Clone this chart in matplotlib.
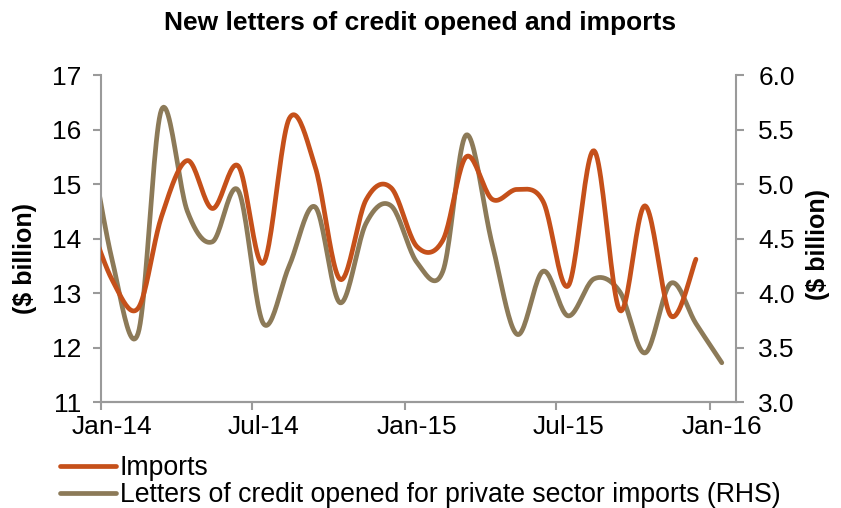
import numpy as np
import pandas as pd
import matplotlib
matplotlib.use('Agg')
import matplotlib.pyplot as plt
import matplotlib.dates as mdates
from matplotlib.lines import Line2D

plt.rcParams['font.family'] = ['Liberation Sans', 'DejaVu Sans']

# Monthly observations, stamped at mid-month (Dec-13 .. Jan-16)
months = pd.date_range('2013-12-01', '2016-01-01', freq='MS') + pd.Timedelta(days=14)

# Imports, $ billion (Dec-13 .. Dec-15)
imports = [14.50, 13.24, 12.72, 14.40, 15.43, 14.55, 15.33, 13.55, 16.20, 15.32, 13.25, 14.71, 14.93,
           13.85, 13.97, 15.50, 14.72, 14.90, 14.68, 13.13, 15.61, 12.68, 14.60, 12.58, 13.62]

# Letters of credit opened for private sector imports, $ billion (Dec-13 .. Jan-16)
lc_opened = [5.60, 4.30, 3.63, 5.68, 4.75, 4.47, 4.94, 3.72, 4.25, 4.79, 3.91, 4.64, 4.80,
             4.28, 4.20, 5.45, 4.45, 3.62, 4.20, 3.79, 4.13, 4.01, 3.45, 4.09, 3.72, 3.36]

tick_dates = pd.to_datetime(['2014-01-01', '2014-07-01', '2015-01-01', '2015-07-01', '2016-01-01'])

c_imp = '#C5501A'
c_lc = '#8C7A58'
c_axis = '#9A9A9A'


def smooth(x, y, n=24):
    # Bezier smoothing through every point (Catmull-Rom style, like spreadsheet "smoothed line")
    x = np.asarray(x, float)
    y = np.asarray(y, float)
    px = np.concatenate([[x[0]], x, [x[-1]]])
    py = np.concatenate([[y[0]], y, [y[-1]]])
    t = np.linspace(0, 1, n)
    xs, ys = [], []
    for i in range(1, len(px) - 2):
        x0, x1, x2, x3 = px[i - 1], px[i], px[i + 1], px[i + 2]
        y0, y1, y2, y3 = py[i - 1], py[i], py[i + 1], py[i + 2]
        cx1, cy1 = x1 + (x2 - x0) / 6, y1 + (y2 - y0) / 6
        cx2, cy2 = x2 - (x3 - x1) / 6, y2 - (y3 - y1) / 6
        b0 = (1 - t) ** 3
        b1 = 3 * (1 - t) ** 2 * t
        b2 = 3 * (1 - t) * t ** 2
        b3 = t ** 3
        xs.append(b0 * x1 + b1 * cx1 + b2 * cx2 + b3 * x2)
        ys.append(b0 * y1 + b1 * cy1 + b2 * cy2 + b3 * y2)
    return np.concatenate(xs), np.concatenate(ys)


fig = plt.figure(figsize=(8.41, 5.08), dpi=100)
ax = fig.add_axes([100.5 / 841, 1 - 402 / 508, (736 - 100.5) / 841, 327 / 508])
ax2 = ax.twinx()

xnum = mdates.date2num(months)
xi, yi = smooth(xnum[:len(imports)], imports)
xl, yl = smooth(xnum, lc_opened)

ax.plot(xi, yi, color=c_imp, lw=3.4, solid_capstyle='round', zorder=3)
ax2.plot(xl, yl, color=c_lc, lw=3.4, solid_capstyle='round', zorder=2)

# Imports above the LC line
ax.set_zorder(ax2.get_zorder() + 1)
ax.patch.set_visible(False)

ax.set_xlim(mdates.date2num(pd.Timestamp('2014-01-01')), mdates.date2num(pd.Timestamp('2016-02-01')))
ax.set_ylim(11, 17)
ax2.set_ylim(3.0, 6.0)

# tick marks at month start, labels centred on mid-month
ax.set_xticks(mdates.date2num(tick_dates))
ax.set_xticklabels([])
ax.set_xticks(mdates.date2num(tick_dates + pd.Timedelta(days=14)), minor=True)
ax.set_xticklabels([d.strftime('%b-%y') for d in tick_dates], minor=True)
ax.tick_params(axis='x', which='minor', length=0, labelsize=19, pad=9)

ax.set_yticks(np.arange(11, 18, 1))
ax2.set_yticks(np.arange(3.0, 6.01, 0.5))
ax2.set_yticklabels(['%.1f' % v for v in np.arange(3.0, 6.01, 0.5)])

for a in (ax, ax2):
    a.spines['top'].set_visible(False)
    for s in ('left', 'right', 'bottom'):
        a.spines[s].set_color(c_axis)
        a.spines[s].set_linewidth(1.5)
    a.tick_params(which='major', colors=c_axis, labelcolor='black', labelsize=19, width=1.5,
                  length=6, direction='out')
ax.tick_params(axis='y', pad=8)
ax2.tick_params(axis='y', pad=10)
ax2.spines['left'].set_visible(False)
ax.spines['right'].set_visible(False)

fig.text(0.4994, 1 - 23 / 508, 'New letters of credit opened and imports',
         ha='center', va='center', fontsize=19, fontweight='bold')
fig.text(25 / 841, 1 - 259 / 508, '($ billion)', rotation=90, ha='center', va='center',
         fontsize=18, fontweight='bold')
fig.text(818 / 841, 1 - 244 / 508, '($ billion)', rotation=90, ha='center', va='center',
         fontsize=18, fontweight='bold')

handles = [Line2D([], [], color=c_imp, lw=3.4, solid_capstyle='round'),
           Line2D([], [], color=c_lc, lw=3.4, solid_capstyle='round')]
fig.legend(handles, ['Imports', 'Letters of credit opened for private sector imports (RHS)'],
           loc='upper left', bbox_to_anchor=(60 / 841, 1 - 455 / 508), frameon=False,
           fontsize=19.2, handlelength=2.1, handletextpad=0.15, labelspacing=0.05,
           borderpad=0, borderaxespad=0)

fig.savefig('out.png', dpi=100)
